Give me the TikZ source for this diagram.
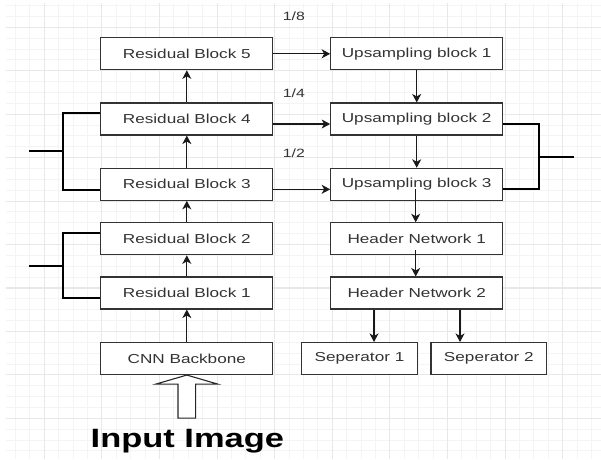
\documentclass[tikz,border=0pt]{standalone}
\usepackage{fontspec}
\usetikzlibrary{arrows.meta}
\newfontfamily\boxfont[FakeStretch=1.32]{Liberation Sans}
\newfontfamily\titlefont[FakeStretch=1.3]{Liberation Sans}

\begin{document}
\begin{tikzpicture}[x=1pt,y=-1pt,
  gridmin/.style={gray!9, line width=0.9pt},
  gridmaj/.style={gray!18, line width=1.1pt},
  blk/.style={draw=black!80, line width=1.1pt, fill=white, minimum width=172pt,
    minimum height=32pt, inner sep=0pt, text=black!80,
    font={\boxfont\fontsize{13}{15}\selectfont}},
  sepblk/.style={blk, minimum width=115.6pt},
  arr/.style={-{Stealth[length=8.5pt,width=9pt,inset=2.5pt]}, line width=1.1pt, black!90},
  brk/.style={line width=2pt, black},
  scl/.style={text=black!80, font={\boxfont\fontsize{12}{14}\selectfont}}]
\useasboundingbox (0,0) rectangle (601,459);
\fill[white] (0,0) rectangle (601,459);

% grid
\foreach \i in {-2,...,38}
  \draw[gridmin] ({44.3+14.4*\i},3) -- ({44.3+14.4*\i},459);
\foreach \j in {-2,...,39}
  \draw[gridmin] (6,{27.3+10.86*\j}) -- (601,{27.3+10.86*\j});
\foreach \i in {0,...,9}
  \draw[gridmaj] ({44.3+57.6*\i},3) -- ({44.3+57.6*\i},459);
\foreach \j in {0,...,9}
  \draw[gridmaj] (6,{27.3+43.44*\j}) -- (601,{27.3+43.44*\j});

% encoder
\node[blk] (rb5) at (186.8,53.8) {Residual Block 5};
\node[blk] (rb4) at (186.8,119) {Residual Block 4};
\node[blk] (rb3) at (186.8,184.3) {Residual Block 3};
\node[blk] (rb2) at (186.8,238.8) {Residual Block 2};
\node[blk] (rb1) at (186.8,293) {Residual Block 1};
\node[blk] (cnn) at (186.8,358.5) {CNN Backbone};

% decoder
\node[blk] (up1) at (416.7,53.8) {Upsampling block 1};
\node[blk] (up2) at (416.7,119) {Upsampling block 2};
\node[blk] (up3) at (416.7,184.3) {Upsampling block 3};
\node[blk] (hn1) at (416.7,238.8) {Header Network 1};
\node[blk] (hn2) at (416.7,293) {Header Network 2};
\node[sepblk] (sep1) at (359.5,358.5) {Seperator 1};
\node[sepblk] (sep2) at (488.8,358.5) {Seperator 2};

% scales
\node[scl] (s8) at (293.8,16.7) {1/8};
\node[scl] (s4) at (293.8,93.3) {1/4};
\node[scl] (s2) at (293.8,153.3) {1/2};

\node[font={\titlefont\bfseries\fontsize{26.5}{30}\selectfont}] (inimg) at (187.4,441) {Input Image};

% input arrow
\draw[line width=1.1pt, black!85, fill=white] (cnn.south) -- ++(30.8,9) -- ++(-21.95,0)
  -- ++(0,34) -- ++(-17.7,0) -- ++(0,-34) -- ++(-21.95,0) -- cycle;

\draw[arr] (cnn) -- (rb1);
\draw[arr] (rb1) -- (rb2);
\draw[arr] (rb2) -- (rb3);
\draw[arr] (rb3) -- (rb4);
\draw[arr] (rb4) -- (rb5);

\draw[arr] (rb5) -- (up1);
\draw[arr] ([yshift=-5pt]rb4.east) -- ([yshift=-5pt]up2.west);
\draw[arr] ([yshift=-5pt]rb3.east) -- ([yshift=-5pt]up3.west);

\draw[arr] (up1) -- (up2);
\draw[arr] (up2) -- (up3);
\draw[arr] ([xshift=-1pt,yshift=-5pt]up3.center) -- ([xshift=-1pt]hn1.north);
\draw[arr] ([xshift=-1pt,yshift=5pt]hn1.south) -- ([xshift=-1pt]hn2.north);
\draw[arr] ([xshift=14.5pt]sep1.north |- hn2.south) -- ([xshift=14.5pt]sep1.north);
\draw[arr] ([xshift=-28.8pt]sep2.north |- hn2.south) -- ([xshift=-28.8pt]sep2.north);

% brackets
\coordinate (lj1) at (63,151);
\coordinate (le1) at (29,151);
\coordinate (lj2) at (63,266);
\coordinate (le2) at (29,266);
\coordinate (rj1) at (539,157);
\coordinate (re1) at (574,157);
\draw[brk] ([yshift=6pt]rb4.west) -| (lj1) |- ([yshift=-5.7pt]rb3.west);
\draw[brk] (lj1) -- (le1);
\draw[brk] ([yshift=5.8pt]rb2.west) -| (lj2) |- ([yshift=-5pt]rb1.west);
\draw[brk] (lj2) -- (le2);
\draw[brk] ([yshift=-5pt]up2.east) -| (rj1) |- ([yshift=-4.7pt]up3.east);
\draw[brk] (rj1) -- (re1);
\end{tikzpicture}
\end{document}
